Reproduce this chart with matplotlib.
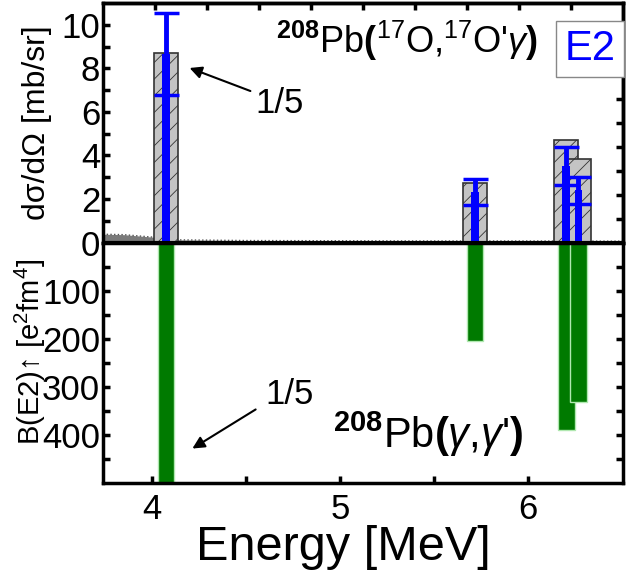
import numpy as np
import matplotlib
matplotlib.use("Agg")
import matplotlib.pyplot as plt

plt.rcParams['font.family'] = ['Liberation Sans', 'DejaVu Sans']
plt.rcParams['mathtext.fontset'] = 'custom'
plt.rcParams['mathtext.rm'] = 'Liberation Sans'
plt.rcParams['mathtext.it'] = 'Liberation Sans:italic'
plt.rcParams['mathtext.bf'] = 'Liberation Sans:bold'
plt.rcParams['hatch.linewidth'] = 0.6

# level energies [MeV]
energy = [4.075, 5.718, 6.203, 6.268]
# calculated cross sections (hatched gray) [mb/sr]
calc_xs = [8.70, 2.75, 4.73, 3.82]
# measured cross sections (blue) and errors
meas_xs = [8.65, 2.33, 3.51, 2.40]
meas_err = [1.88, 0.59, 0.88, 0.62]
# B(E2) up from (gamma,gamma') [e^2 fm^4]
be2 = [590, 205, 389, 331]
# low-energy background continuum
bg_e = [3.74, 3.85, 4.0, 4.15, 4.5, 5.0, 5.5, 6.0, 6.5]
bg_y = [0.38, 0.36, 0.25, 0.12, 0.09, 0.08, 0.07, 0.07, 0.06]

W, H = 641, 573
fig = plt.figure(figsize=(W/100, H/100), dpi=100)
L, R = 103/W, 623/W
ax1 = fig.add_axes([L, 1-242.5/H, R-L, 239.5/H])
ax2 = fig.add_axes([L, 1-483/H, R-L, 240.5/H])
tk = dict(direction='in', length=5, width=2.5)

# upper panel
ax1.fill_between(bg_e, 0, bg_y, color='#7a7a7a', lw=0, zorder=1)
ax1.plot(bg_e, bg_y, ls=':', color='#555555', lw=1, zorder=1)
for e, v in zip(energy, calc_xs):
    ax1.bar(e, v, width=0.13, color='#c4c4c4', edgecolor='#333333',
            hatch='//', lw=1.2, zorder=2)
ax1.bar(energy, meas_xs, width=0.04, color='#0000ff', lw=0, zorder=3)
ax1.errorbar(energy, meas_xs, yerr=meas_err, fmt='none', ecolor='#0000ff',
             elinewidth=3.5, capsize=9, capthick=2.5, zorder=4)
ax1.axhline(0, color='black', lw=3, zorder=5)
ax1.set_xlim(3.74, 6.505)
ax1.set_ylim(0, 11)
ax1.set_yticks([0, 2, 4, 6, 8, 10])
ax1.set_yticks([1, 3, 5, 7, 9], minor=True)
ax1.set_xticks([])
ax1.tick_params(axis='y', which='both', left=True, right=False,
                labelsize=25, pad=2, **tk)
top = ax1.secondary_xaxis('top')
top.set_xticks(np.arange(4.016, 6.5, 0.2766))
top.tick_params(labeltop=False, **tk)
right = ax1.secondary_yaxis('right')
right.set_yticks(np.arange(1.1, 10.5, 1.1))
right.tick_params(labelright=False, **tk)
for a in (ax1, top, right):
    for s in a.spines.values():
        s.set_linewidth(2.5)

# lower panel
for e, v in zip(energy, be2):
    ax2.bar(e, v, width=0.09, color='#007a00', edgecolor='#b0e8b0', lw=1, zorder=2)
ax2.set_xlim(3.74, 6.505)
ax2.set_ylim(500, 0)
ax2.set_yticks([100, 200, 300, 400])
ax2.set_yticks([50, 150, 250, 350, 450], minor=True)
ax2.set_xticks([4, 5, 6])
ax2.set_xticks([4.5, 5.5], minor=True)
ax2.tick_params(axis='x', which='both', labelsize=25, pad=7, **tk)
ax2.tick_params(axis='y', which='both', left=True, right=True,
                labelsize=25, pad=2, **tk)
for s in ax2.spines.values():
    s.set_linewidth(2.5)

# labels
fig.text(37/W, 1-123/H, 'dσ/dΩ [mb/sr]', rotation=90, ha='center', va='center',
         fontsize=23)
fig.text(30/W, 1-352/H, 'B(E2)↑ [e$^2$fm$^4$]', rotation=90,
         ha='center', va='center', fontsize=21)
fig.text(343/W, 1-560/H, 'Energy [MeV]', ha='center', va='baseline', fontsize=35)

fig.text(538/W, 1-53/H, r"$^{\mathbf{208}}$Pb$\mathbf{(}^{17}$O,$^{17}$O'$\gamma$$\mathbf{)}$",
         ha='right', va='baseline', fontsize=26)
fig.text(333/W, 1-448/H, r"$^{\mathbf{208}}$Pb$\mathbf{(}\gamma$,$\gamma$'$\mathbf{)}$",
         ha='left', va='baseline', fontsize=30)
fig.text(590/W, 1-49/H, 'E2', color='#0000ff', ha='center', va='center',
         fontsize=30, bbox=dict(boxstyle='square,pad=0.2', fc='white',
                                ec='#888888', lw=1), zorder=10)

arrow = dict(arrowstyle='-|>', color='black', lw=1.5, mutation_scale=18)
fig.text(280/W, 1-103/H, '1/5', ha='center', va='center', fontsize=25)
ax1.annotate('', xy=(187, H-67), xytext=(253, H-92), xycoords='figure pixels',
             textcoords='figure pixels', arrowprops=arrow)
fig.text(290/W, 1-395/H, '1/5', ha='center', va='center', fontsize=25)
ax2.annotate('', xy=(190, H-450), xytext=(258, H-408), xycoords='figure pixels',
             textcoords='figure pixels', arrowprops=arrow)

fig.savefig('out.png', dpi=100)
